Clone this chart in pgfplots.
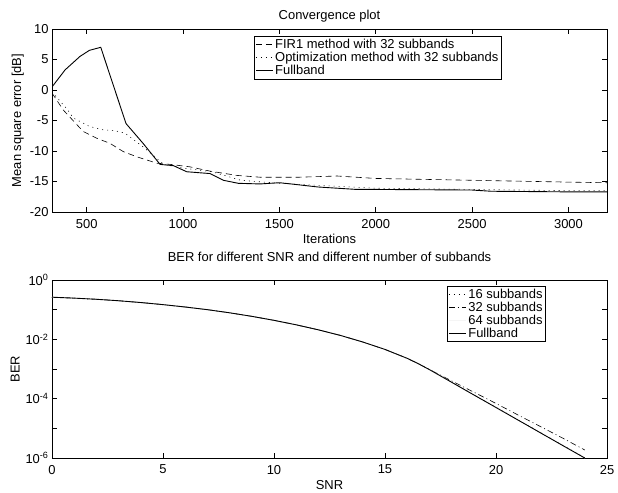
\documentclass[border=0pt]{standalone}
\usepackage{fontspec}
\setmainfont{Liberation Sans}
\usepackage{pgfplots}
\pgfplotsset{compat=1.18}

\pgfplotsset{
  mat/.style={
    scale only axis, width=555bp, height=183bp,
    anchor=north west,
    tick align=inside, major tick length=5bp,
    axis line style={line width=0.7pt},
    every tick/.style={black, line width=0.6pt},
    /pgf/number format/assume math mode=true,
    /pgf/number format/1000 sep={},
    tick label style={font=\fontsize{13}{15}\selectfont},
    xticklabel style={yshift=-3.5bp},
    label style={font=\fontsize{13}{15}\selectfont},
    title style={font=\fontsize{13}{15}\selectfont, yshift=-3bp},
    xlabel style={yshift=1bp},
    ylabel style={yshift=-1bp},
    legend cell align=left,
    legend style={draw=black, line width=0.6pt, font=\fontsize{13}{15}\selectfont,
      inner sep=1pt, row sep=-2pt, anchor=north west, fill=white},
  },
}

\begin{document}
\begin{tikzpicture}[font=\fontsize{13}{15}\selectfont]
\begin{axis}[mat, at={(0,0)},
  title={Convergence plot},
  xlabel={Iterations}, ylabel={Mean square error [dB]},
  xmin=320, xmax=3200, ymin=-20, ymax=10,
  xtick={500,1000,...,3000},
  ytick={-20,-15,...,10},
  yticklabels={-20,-15,-10,-5,0,5,10},
  legend style={at={(0.364,0.962)}}]
\addplot[black, line width=0.6pt, dash pattern=on 6bp off 4bp] coordinates {
(320,-0.5) (379,-3.3) (482,-6.8) (552,-7.9) (621,-8.75) (690,-10.1) (760,-10.95)
(864,-12.0) (935,-12.2) (1036,-12.6) (1140,-13.3) (1279,-14.0) (1400,-14.3)
(1600,-14.3) (1800,-14.1) (2000,-14.5) (2500,-14.8) (3000,-15.1) (3200,-15.2)};
\addlegendentry{FIR1 method with 32 subbands}
\addplot[black, line width=0.6pt, dash pattern=on 1bp off 4bp] coordinates {
(320,-0.3) (400,-3.2) (431,-4.6) (517,-6.0) (580,-6.5) (650,-6.7) (700,-7.1)
(800,-9.5) (900,-12.2) (1000,-12.8) (1150,-13.4) (1300,-14.8) (1500,-15.3)
(2000,-16.1) (2500,-16.3) (3000,-16.5) (3200,-16.5)};
\addlegendentry{Optimization method with 32 subbands}
\addplot[black, line width=0.9pt] coordinates {
(320,0.5) (388,3.3) (465,5.5) (514,6.5) (573,7.0) (704,-5.5) (794,-8.8) (881,-12.2)
(950,-12.4) (1019,-13.4) (1140,-13.7) (1209,-14.8) (1287,-15.3) (1400,-15.4)
(1500,-15.2) (1560,-15.4) (1700,-15.9) (1900,-16.3) (2000,-16.3) (2500,-16.4)
(2600,-16.6) (3000,-16.7) (3200,-16.7)};
\addlegendentry{Fullband}
\end{axis}

\begin{axis}[mat, at={(0,-251bp)}, height=178bp,
  title={BER for different SNR and different number of subbands},
  title style={yshift=12bp},
  xlabel={SNR}, ylabel={BER},
  ymode=log, xmin=0, xmax=25, ymin=1e-6, ymax=1,
  xtick={0,5,...,25},
  ytick={1e-6,1e-5,1e-4,1e-3,1e-2,1e-1,1},
  yticklabels={10\textsuperscript{-6},,10\textsuperscript{-4},,10\textsuperscript{-2},,10\textsuperscript{0}},
  minor ytick={}, log basis y=10,
  legend style={at={(0.712,0.967)}}]
\addplot[black, line width=0.6pt, dash pattern=on 1bp off 4bp] coordinates {
(0,0.263) (1,0.245) (2,0.224) (3,0.200) (4,0.174) (5,0.148) (6,0.123) (7,0.100)
(8,0.0785) (9,0.0596) (10,0.0437) (11,0.0309) (12,0.0209) (13,0.0135) (14,0.00813)
(15,0.00457) (16,0.00229) (16.5,0.00151) (17,9.6e-4) (18,3.62e-4) (19,1.36e-4)
(20,5.1e-5) (21,1.92e-5) (22,7.2e-6) (23,2.7e-6) (24,1.02e-6)};
\addlegendentry{16 subbands}
\addplot[black, line width=0.6pt, dash pattern=on 6bp off 3bp on 1bp off 3bp] coordinates {
(0,0.263) (1,0.245) (2,0.224) (3,0.200) (4,0.174) (5,0.148) (6,0.123) (7,0.100)
(8,0.0785) (9,0.0596) (10,0.0437) (11,0.0309) (12,0.0209) (13,0.0135) (14,0.00813)
(15,0.00457) (16,0.00229) (16.5,0.00151) (17,9.6e-4) (18,3.98e-4) (19,1.66e-4)
(20,6.9e-5) (21,2.8e-5) (22,1.15e-5) (23,4.7e-6) (24,1.86e-6)};
\addlegendentry{32 subbands}
\addplot[gray!8, line width=0.6pt] coordinates {
(0,0.263) (1,0.245) (2,0.224) (3,0.200) (4,0.174) (5,0.148) (6,0.123) (7,0.100)
(8,0.0785) (9,0.0596) (10,0.0437) (11,0.0309) (12,0.0209) (13,0.0135) (14,0.00813)
(15,0.00457) (16,0.00229) (16.5,0.00151) (17,9.55e-4) (18,3.58e-4) (19,1.34e-4)
(20,5.04e-5) (21,1.89e-5) (22,7.08e-6) (23,2.65e-6) (24,1.0e-6)};
\addlegendentry{64 subbands}
\addplot[black, line width=0.9pt] coordinates {
(0,0.263) (1,0.245) (2,0.224) (3,0.200) (4,0.174) (5,0.148) (6,0.123) (7,0.100)
(8,0.0785) (9,0.0596) (10,0.0437) (11,0.0309) (12,0.0209) (13,0.0135) (14,0.00813)
(15,0.00457) (16,0.00229) (16.5,0.00151) (17,9.55e-4) (18,3.58e-4) (19,1.34e-4)
(20,5.04e-5) (21,1.89e-5) (22,7.08e-6) (23,2.65e-6) (24,1.0e-6)};
\addlegendentry{Fullband}
\end{axis}
\pgfresetboundingbox
\path (-52bp,29bp) rectangle (566bp,-464bp);
\end{tikzpicture}
\end{document}
